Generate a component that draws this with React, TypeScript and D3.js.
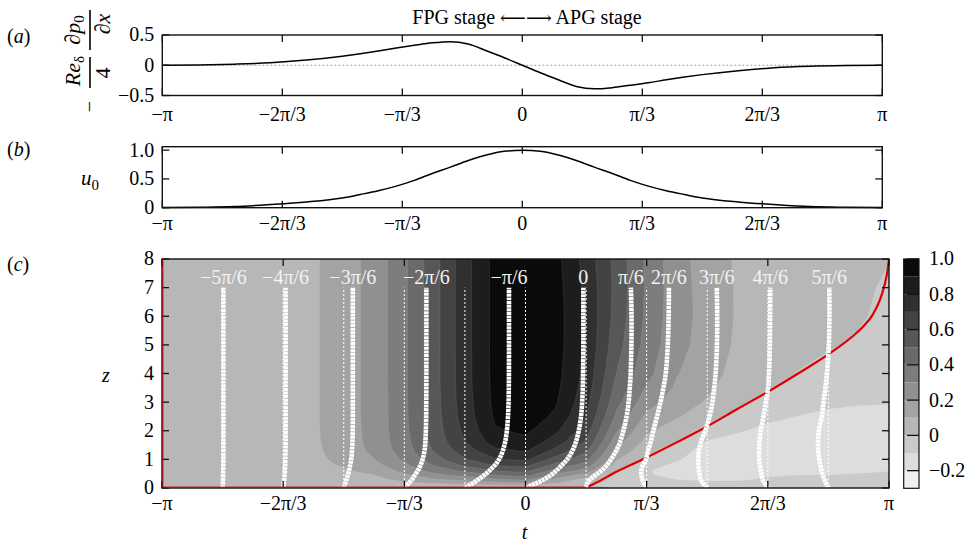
import { useEffect, useRef } from 'react';
import * as d3 from 'd3';

const PI = Math.PI;

// phase t, in units of pi, for the two line panels
const tLine = [-1, -0.9, -0.8, -0.7, -0.6, -0.5, -0.45, -0.4, -0.35, -0.3, -0.25, -0.2, -0.15, -0.1, -0.05, 0,
  0.05, 0.1, 0.15, 0.2, 0.25, 0.3, 0.35, 0.4, 0.45, 0.5, 0.6, 0.7, 0.8, 0.9, 1];
// (a) -Re/4 dp0/dx
const pressureGrad = [0, 0.006, 0.018, 0.04, 0.085, 0.15, 0.19, 0.235, 0.285, 0.33, 0.37, 0.39, 0.35, 0.24, 0.125, 0,
  -0.125, -0.24, -0.35, -0.39, -0.37, -0.33, -0.29, -0.24, -0.195, -0.155, -0.09, -0.042, -0.018, -0.006, 0];
// (b) u0
const freeStream = [0.003, 0.008, 0.02, 0.055, 0.1, 0.17, 0.23, 0.295, 0.375, 0.475, 0.595, 0.705, 0.82, 0.915, 0.98, 1,
  0.98, 0.915, 0.82, 0.705, 0.595, 0.475, 0.375, 0.295, 0.23, 0.17, 0.1, 0.055, 0.02, 0.008, 0.003];

// (c) velocity field u(t, z): one column per phase (units of pi), one value per z row
const tField = [-1, -0.9167, -0.8333, -0.75, -0.6667, -0.5833, -0.5, -0.4167, -0.3333, -0.25, -0.1667, -0.0833, 0,
  0.0833, 0.1667, 0.25, 0.3333, 0.4167, 0.5, 0.5833, 0.6667, 0.75, 0.8333, 0.9167, 1];
const zRows = [0, 0.1, 0.2, 0.3, 0.45, 0.6, 0.8, 1, 1.3, 1.6, 2, 2.5, 3, 3.5, 4, 5, 6, 7, 8];
const uField = [
  [0, 0.0005, 0.001, 0.0015, 0.002, 0.0025, 0.003, 0.003, 0.003, 0.003, 0.003, 0.003, 0.003, 0.003, 0.003, 0.003, 0.003, 0.003, 0.003],
  [0, 0.002, 0.003, 0.004, 0.005, 0.006, 0.0065, 0.007, 0.007, 0.007, 0.007, 0.007, 0.007, 0.007, 0.007, 0.007, 0.007, 0.007, 0.007],
  [0, 0.003, 0.005, 0.007, 0.009, 0.011, 0.012, 0.013, 0.014, 0.014, 0.014, 0.014, 0.014, 0.014, 0.014, 0.014, 0.014, 0.014, 0.014],
  [0, 0.004, 0.008, 0.012, 0.016, 0.019, 0.022, 0.024, 0.025, 0.025, 0.025, 0.025, 0.025, 0.025, 0.025, 0.025, 0.025, 0.025, 0.025],
  [0, 0.006, 0.012, 0.018, 0.025, 0.03, 0.035, 0.038, 0.041, 0.042, 0.042, 0.042, 0.042, 0.042, 0.042, 0.042, 0.042, 0.042, 0.042],
  [0, 0.012, 0.023, 0.034, 0.047, 0.058, 0.068, 0.075, 0.081, 0.084, 0.086, 0.086, 0.086, 0.086, 0.086, 0.086, 0.086, 0.086, 0.086],
  [0, 0.016, 0.032, 0.047, 0.069, 0.09, 0.111, 0.129, 0.143, 0.151, 0.155, 0.157, 0.157, 0.157, 0.157, 0.157, 0.157, 0.157, 0.157],
  [0, 0.022, 0.045, 0.068, 0.1, 0.13, 0.168, 0.198, 0.222, 0.23, 0.233, 0.234, 0.234, 0.234, 0.234, 0.234, 0.234, 0.234, 0.234],
  [0, 0.045, 0.09, 0.135, 0.18, 0.23, 0.28, 0.315, 0.348, 0.363, 0.372, 0.377, 0.379, 0.38, 0.381, 0.381, 0.381, 0.381, 0.381],
  [0, 0.065, 0.13, 0.19, 0.27, 0.34, 0.41, 0.46, 0.51, 0.535, 0.55, 0.558, 0.562, 0.564, 0.565, 0.565, 0.565, 0.565, 0.565],
  [0, 0.08, 0.16, 0.235, 0.335, 0.42, 0.52, 0.59, 0.655, 0.695, 0.725, 0.745, 0.755, 0.759, 0.761, 0.762, 0.762, 0.762, 0.762],
  [0, 0.095, 0.19, 0.28, 0.4, 0.5, 0.61, 0.69, 0.775, 0.845, 0.89, 0.915, 0.925, 0.929, 0.931, 0.932, 0.932, 0.932, 0.932],
  [0, 0.11, 0.22, 0.32, 0.44, 0.53, 0.63, 0.72, 0.81, 0.87, 0.92, 0.96, 0.98, 0.99, 0.995, 1, 1, 1, 1],
  [0, 0.06, 0.12, 0.18, 0.27, 0.36, 0.47, 0.56, 0.67, 0.75, 0.82, 0.88, 0.91, 0.925, 0.935, 0.943, 0.945, 0.94, 0.932],
  [0, 0.005, 0.03, 0.07, 0.16, 0.26, 0.36, 0.43, 0.52, 0.585, 0.645, 0.7, 0.735, 0.755, 0.77, 0.783, 0.785, 0.775, 0.762],
  [0, -0.015, -0.025, -0.028, -0.018, 0.01, 0.06, 0.11, 0.18, 0.24, 0.31, 0.38, 0.43, 0.47, 0.5, 0.54, 0.562, 0.57, 0.565],
  [0, -0.028, -0.055, -0.075, -0.092, -0.093, -0.065, -0.012, 0.025, 0.07, 0.115, 0.18, 0.24, 0.29, 0.33, 0.365, 0.38, 0.385, 0.381],
  [0, -0.04, -0.075, -0.1, -0.122, -0.13, -0.118, -0.09, -0.05, -0.002, 0.05, 0.11, 0.155, 0.185, 0.205, 0.225, 0.233, 0.236, 0.234],
  [0, -0.045, -0.088, -0.113, -0.13, -0.142, -0.152, -0.155, -0.145, -0.11, -0.035, 0.04, 0.09, 0.12, 0.145, 0.168, 0.172, 0.165, 0.157],
  [0, -0.045, -0.085, -0.11, -0.135, -0.148, -0.158, -0.162, -0.158, -0.135, -0.09, -0.03, 0.02, 0.045, 0.062, 0.082, 0.09, 0.09, 0.086],
  [0, -0.035, -0.065, -0.09, -0.108, -0.122, -0.138, -0.148, -0.152, -0.143, -0.125, -0.075, -0.035, 0.005, 0.02, 0.035, 0.04, 0.042, 0.042],
  [0, -0.03, -0.055, -0.078, -0.099, -0.118, -0.135, -0.148, -0.158, -0.16, -0.148, -0.102, -0.065, -0.033, -0.002, 0.018, 0.025, 0.027, 0.025],
  [0, -0.025, -0.05, -0.07, -0.098, -0.118, -0.14, -0.158, -0.175, -0.178, -0.165, -0.115, -0.085, -0.052, -0.025, 0.007, 0.018, 0.015, 0.014],
  [0, -0.022, -0.045, -0.065, -0.092, -0.112, -0.135, -0.152, -0.17, -0.178, -0.17, -0.13, -0.09, -0.065, -0.045, -0.01, 0.008, 0.008, 0.007],
  [0, -0.02, -0.042, -0.062, -0.085, -0.102, -0.13, -0.148, -0.165, -0.172, -0.168, -0.125, -0.095, -0.075, -0.058, -0.035, -0.018, -0.006, 0.001],
];
const levels = [-0.3, -0.2, -0.1, 0, 0.1, 0.2, 0.3, 0.4, 0.5, 0.6, 0.7, 0.8, 0.9];

// velocity profiles drawn over the field
const profilePhases = [-0.8333, -0.6667, -0.5, -0.3333, -0.1667, 0, 0.1667, 0.3333, 0.5, 0.6667, 0.8333];
const profileLabels = ['−5π/6', '−4π/6', '−3π/6', '−2π/6', '−π/6', '0', 'π/6', '2π/6', '3π/6', '4π/6', '5π/6'];
const profileScale = 0.5; // t offset (rad) per unit of u

// zero-velocity curve (t in units of pi, z)
const zeroT = [-1, -1, 0.164, 0.2, 0.246, 0.329, 0.42, 0.498, 0.583, 0.668, 0.75, 0.838, 0.9, 0.929, 0.955, 0.975, 0.988, 0.996, 1];
const zeroZ = [8, 0, 0, 0.22, 0.54, 1.04, 1.62, 2.14, 2.76, 3.37, 4.0, 4.71, 5.3, 5.64, 6.05, 6.57, 7.1, 7.6, 8];

const xTicks = [-1, -2 / 3, -1 / 3, 0, 1 / 3, 2 / 3, 1];
const xTickLabels = ['−π', '−2π/3', '−π/3', '0', 'π/3', '2π/3', 'π'];
const barTicks = [-0.2, 0, 0.2, 0.4, 0.6, 0.8, 1.0];
const barTickLabels = ['−0.2', '0', '0.2', '0.4', '0.6', '0.8', '1.0'];

const FONT = "'Liberation Serif', 'Times New Roman', serif";

export default function App() {
  const ref = useRef<SVGSVGElement>(null);

  useEffect(() => {
    const svg = d3.select(ref.current);
    svg.selectAll('*').remove();

    const xa = d3.scaleLinear().domain([-PI, PI]).range([162.3, 882.3]);
    const xc = d3.scaleLinear().domain([-PI, PI]).range([162, 889]);
    const ya = d3.scaleLinear().domain([-0.5, 0.5]).range([95.5, 35]);
    const yb = d3.scaleLinear().domain([0, 1.06]).range([207.7, 146.7]);
    const yc = d3.scaleLinear().domain([0, 8]).range([488, 259]);
    const yBar = d3.scaleLinear().domain([-0.3, 1]).range([488.3, 259]);
    const gray = d3.scaleLinear().domain([-0.3, 1]).range([250, 0]);
    const bandColor = (l: number) => { const g = Math.round(gray(l + 0.05)); return d3.rgb(g, g, g).toString(); };
    const tickLen = 7;

    function axes(x: any, y: any, yTicks: number[], yLabels: string[], xLabelY: number) {
      const g = svg.append('g');
      const [x0, x1] = x.range();
      const [yB, yT] = y.range();
      xTicks.forEach((t, i) => {
        const px = x(t * PI);
        g.append('line').attr('x1', px).attr('x2', px).attr('y1', yB).attr('y2', yB - tickLen).attr('stroke', '#111').attr('stroke-width', 1.3);
        g.append('line').attr('x1', px).attr('x2', px).attr('y1', yT).attr('y2', yT + tickLen).attr('stroke', '#111').attr('stroke-width', 1.3);
        g.append('text').attr('x', px).attr('y', xLabelY).attr('text-anchor', 'middle').text(xTickLabels[i]);
      });
      yTicks.forEach((v, i) => {
        const py = y(v);
        g.append('line').attr('x1', x0).attr('x2', x0 + tickLen).attr('y1', py).attr('y2', py).attr('stroke', '#111').attr('stroke-width', 1.3);
        g.append('line').attr('x1', x1 - tickLen).attr('x2', x1).attr('y1', py).attr('y2', py).attr('stroke', '#111').attr('stroke-width', 1.3);
        g.append('text').attr('x', x0 - 8).attr('y', py).attr('dy', '0.32em').attr('text-anchor', 'end').text(yLabels[i]);
      });
      g.append('rect').attr('x', x0).attr('y', yT).attr('width', x1 - x0).attr('height', yB - yT)
        .attr('fill', 'none').attr('stroke', '#111').attr('stroke-width', 1.4);
    }

    // title
    const title = svg.append('text').attr('x', 527).attr('y', 24).attr('text-anchor', 'middle');
    title.append('tspan').text('FPG stage ');
    title.append('tspan').attr('font-family', "'DejaVu Serif', serif").attr('font-size', 18).text('⟵⟶');
    title.append('tspan').text(' APG stage');

    // (a)
    svg.append('line').attr('x1', xa(-PI)).attr('x2', xa(PI)).attr('y1', ya(0)).attr('y2', ya(0))
      .attr('stroke', '#888').attr('stroke-width', 0.8).attr('stroke-dasharray', '2,2');
    svg.append('path').datum(tLine.map((t, i) => [t * PI, pressureGrad[i]]))
      .attr('fill', 'none').attr('stroke', '#000').attr('stroke-width', 1.5)
      .attr('d', d3.line().x((d: any) => xa(d[0])).y((d: any) => ya(d[1])).curve(d3.curveMonotoneX) as any);
    axes(xa, ya, [0.5, 0, -0.5], ['0.5', '0', '−0.5'], 121);

    // (b)
    svg.append('path').datum(tLine.map((t, i) => [t * PI, freeStream[i]]))
      .attr('fill', 'none').attr('stroke', '#000').attr('stroke-width', 1.5)
      .attr('d', d3.line().x((d: any) => xa(d[0])).y((d: any) => yb(d[1])).curve(d3.curveMonotoneX) as any);
    axes(xa, yb, [1, 0.5, 0], ['1.0', '0.5', '0'], 230);

    // (c) filled contours
    const nx = tField.length;
    const ny = zRows.length;
    const values: number[] = [];
    for (let j = 0; j < ny; j++) for (let i = 0; i < nx; i++) values.push(uField[i][j]);
    const bands = d3.contours().size([nx, ny]).thresholds(levels)(values);
    const gi = d3.scaleLinear().domain(d3.range(nx)).range(tField.map((t) => t * PI)).clamp(true);
    const gj = d3.scaleLinear().domain(d3.range(ny)).range(zRows).clamp(true);
    const proj = d3.geoTransform({
      point: function (this: any, px: number, py: number) {
        this.stream.point(xc(gi(px - 0.5)), yc(gj(py - 0.5)));
      },
    });
    const geo = d3.geoPath(proj);

    svg.append('clipPath').attr('id', 'clipc').append('rect')
      .attr('x', 162).attr('y', 259).attr('width', 889 - 162).attr('height', 488 - 259);
    const gc = svg.append('g').attr('clip-path', 'url(#clipc)');
    gc.append('rect').attr('x', 162).attr('y', 259).attr('width', 889 - 162).attr('height', 488 - 259).attr('fill', bandColor(-0.3));
    bands.forEach((b) => {
      gc.append('path').attr('d', geo(b as any)).attr('fill', bandColor(b.value))
        .attr('stroke', 'rgba(255,255,255,0.14)').attr('stroke-width', 0.6);
    });

    // zero-velocity curve
    const zeroPts = zeroT.map((t, i) => [t * PI, zeroZ[i]]);
    const red = d3.line().x((d: any) => xc(d[0])).y((d: any) => yc(d[1]));
    gc.append('path').attr('d', red.curve(d3.curveMonotoneX)(zeroPts.slice(2) as any)).attr('fill', 'none')
      .attr('stroke', '#e00000').attr('stroke-width', 2.2);

    // velocity profiles
    const topRow = zRows.indexOf(7);
    profilePhases.forEach((p, k) => {
      const col = tField.findIndex((t) => Math.abs(t - p) < 1e-3);
      const pts = zRows.slice(0, topRow + 1).map((z, j) => [p * PI + profileScale * uField[col][j], z]);
      gc.append('line').attr('x1', xc(p * PI)).attr('x2', xc(p * PI)).attr('y1', yc(0)).attr('y2', yc(7))
        .attr('stroke', '#fff').attr('stroke-width', 1).attr('stroke-dasharray', '2,2');
      gc.append('path').attr('d', d3.line().x((d: any) => xc(d[0])).y((d: any) => yc(d[1])).curve(d3.curveCatmullRom)(pts as any))
        .attr('fill', 'none').attr('stroke', '#fff').attr('stroke-width', 4.6).attr('stroke-dasharray', '3,0.6');
      gc.append('text').attr('x', xc(pts[topRow][0])).attr('y', 284).attr('text-anchor', 'middle')
        .attr('fill', '#f2f2f2').text(profileLabels[k]);
    });

    axes(xc, yc, [0, 1, 2, 3, 4, 5, 6, 7, 8], ['0', '1', '2', '3', '4', '5', '6', '7', '8'], 510);

    // red along the initial-time edge and the wall, just inside the frame
    svg.append('path').attr('d', d3.line().x((d: any) => xc(d[0])).y((d: any) => yc(d[1]))(zeroPts.slice(0, 3) as any))
      .attr('transform', 'translate(0.9,-0.9)').attr('fill', 'none').attr('stroke', '#d00000').attr('stroke-width', 1);

    // colorbar
    const cb = svg.append('g');
    levels.forEach((l) => {
      cb.append('rect').attr('x', 903.7).attr('width', 15.3).attr('y', yBar(l + 0.1)).attr('height', yBar(l) - yBar(l + 0.1))
        .attr('fill', bandColor(l));
    });
    barTicks.forEach((v, i) => {
      cb.append('line').attr('x1', 907).attr('x2', 919).attr('y1', yBar(v)).attr('y2', yBar(v)).attr('stroke', '#111').attr('stroke-width', 1.3);
      cb.append('text').attr('x', 929).attr('y', yBar(v)).attr('dy', '0.32em').text(barTickLabels[i]);
    });
    cb.append('rect').attr('x', 903.7).attr('y', 259).attr('width', 15.3).attr('height', 488.3 - 259)
      .attr('fill', 'none').attr('stroke', '#111').attr('stroke-width', 1.2);

    // panel letters
    [['a', 43], ['b', 156], ['c', 271]].forEach(([c, y]) => {
      const t = svg.append('text').attr('x', 7).attr('y', y as number);
      t.append('tspan').text('(');
      t.append('tspan').attr('font-style', 'italic').text(c as string);
      t.append('tspan').text(')');
    });

    // axis labels
    const rot = (x: number, y: number) => `translate(${x},${y}) rotate(-90)`;
    svg.append('text').attr('transform', rot(89.5, 106.5)).attr('text-anchor', 'middle').attr('dy', '0.33em').text('−');
    svg.append('line').attr('x1', 90).attr('x2', 90).attr('y1', 57).attr('y2', 88).attr('stroke', '#000').attr('stroke-width', 1.6);
    svg.append('line').attr('x1', 90).attr('x2', 90).attr('y1', 10).attr('y2', 50).attr('stroke', '#000').attr('stroke-width', 1.6);
    const re = svg.append('text').attr('transform', rot(80, 71)).attr('text-anchor', 'middle').attr('font-size', 22);
    re.append('tspan').attr('font-style', 'italic').text('Re');
    re.append('tspan').attr('dy', 4).attr('font-size', 15).text('δ');
    svg.append('text').attr('transform', rot(110, 73)).attr('text-anchor', 'middle').attr('font-size', 22).text('4');
    const dp = svg.append('text').attr('transform', rot(80, 30)).attr('text-anchor', 'middle').attr('font-size', 22);
    dp.append('tspan').attr('font-style', 'italic').text('∂p');
    dp.append('tspan').attr('dy', 4).attr('font-size', 15).text('0');
    svg.append('text').attr('transform', rot(110, 24)).attr('text-anchor', 'middle').attr('font-size', 22).attr('font-style', 'italic').text('∂x');

    const ul = svg.append('text').attr('x', 81).attr('y', 185).attr('font-size', 21);
    ul.append('tspan').attr('font-style', 'italic').text('u');
    ul.append('tspan').attr('dy', 5).attr('font-size', 15).text('0');

    svg.append('text').attr('x', 106).attr('y', 382).attr('text-anchor', 'middle').attr('font-style', 'italic').text('z');
    svg.append('text').attr('x', 524.5).attr('y', 539).attr('text-anchor', 'middle').attr('font-style', 'italic').text('t');
  }, []);

  return (
    <svg ref={ref} width={971} height={542}
      style={{ position: 'absolute', left: 0, top: 0, background: '#fff', fontFamily: FONT, fontSize: 20 }} />
  );
}
